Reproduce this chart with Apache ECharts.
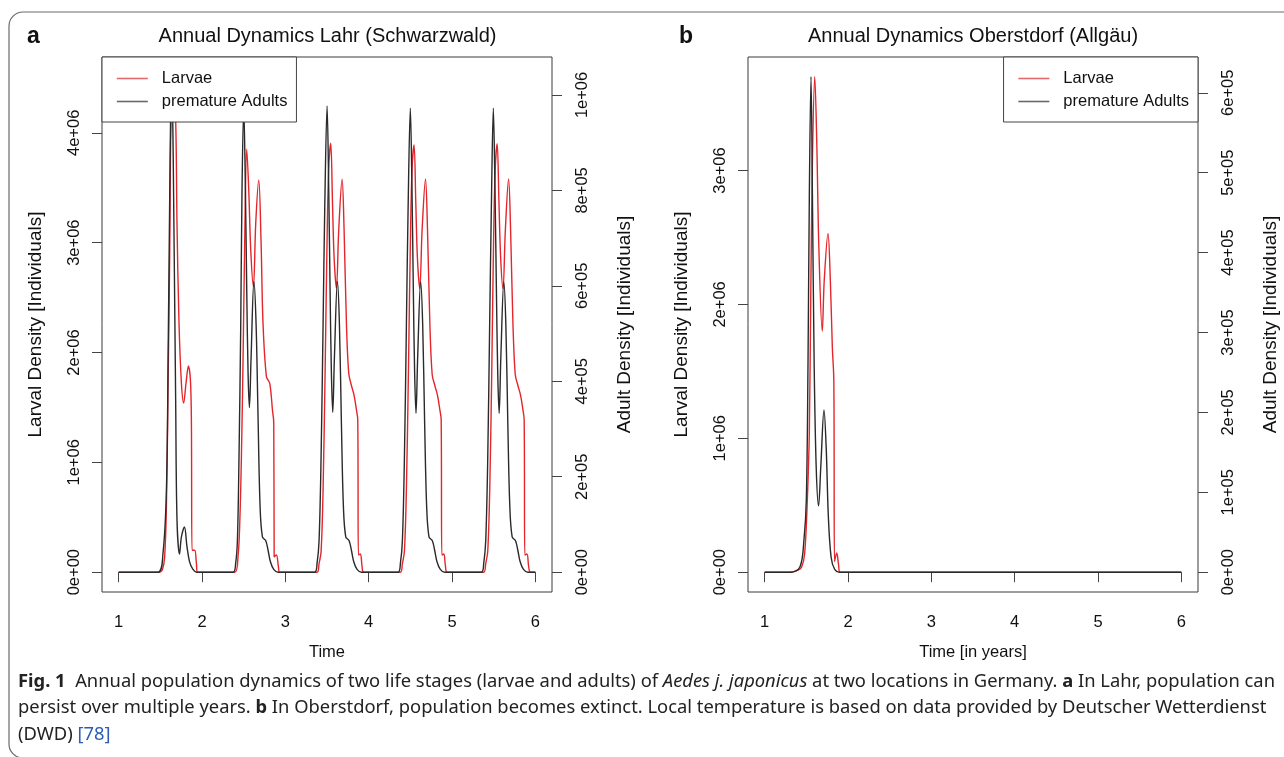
<!DOCTYPE html>
<html>
<head>
<meta charset="utf-8">
<script src="https://cdn.jsdelivr.net/npm/echarts@6/dist/echarts.min.js"></script>
<style>
html,body{margin:0;padding:0;background:#fff;}
#chart{width:1284px;height:757px;}
</style>
</head>
<body>
<div id="chart"></div>
<script>
// ---------- data (time in years, densities in individuals) ----------
const larvaeLahr = [
  [1.000,0],[1.490,0],[1.528,3e4],[1.552,1.4e5],[1.573,6.0e5],[1.592,1.66e6],[1.612,2.87e6],[1.628,4.12e6],
  [1.654,4.51e6],[1.684,4.12e6],[1.700,3.18e6],[1.724,2.27e6],[1.753,1.72e6],[1.780,1.54e6],[1.808,1.72e6],
  [1.837,1.878e6],[1.861,1.75e6],[1.873,1.36e6],[1.880,2.0e5],[1.912,2.0e5],[1.933,8e4],[1.945,0],
  [2.393,0],[2.432,1.4e5],[2.453,4.45e5],[2.473,1.05e6],[2.493,1.96e6],[2.513,3.03e6],[2.537,3.85e6],
  [2.561,3.48e6],[2.585,2.93e6],[2.617,2.60e6],[2.645,3.18e6],[2.681,3.57e6],[2.708,3.03e6],[2.732,2.27e6],
  [2.773,1.78e6],[2.813,1.72e6],[2.845,1.48e6],[2.861,1.36e6],[2.866,1.4e5],[2.893,1.57e5],[2.917,5e4],[2.933,0],
  [3.381,0],[3.405,8e4],[3.429,1.87e5],[3.453,7.5e5],[3.477,1.81e6],[3.501,3.03e6],[3.521,3.69e6],[3.545,3.906e6],
  [3.565,3.39e6],[3.585,2.87e6],[3.613,2.585e6],[3.641,3.12e6],[3.681,3.578e6],[3.705,3.12e6],[3.733,2.27e6],
  [3.761,1.81e6],[3.793,1.70e6],[3.825,1.61e6],[3.853,1.48e6],[3.869,1.39e6],[3.877,1.57e5],[3.901,1.66e5],[3.921,5e4],[3.941,0],
  [4.381,0],[4.405,8e4],[4.429,1.9e5],[4.453,7.6e5],[4.477,1.82e6],[4.501,3.03e6],[4.521,3.68e6],[4.545,3.89e6],
  [4.565,3.38e6],[4.585,2.86e6],[4.613,2.58e6],[4.641,3.11e6],[4.682,3.58e6],[4.706,3.12e6],[4.734,2.27e6],
  [4.762,1.80e6],[4.794,1.70e6],[4.826,1.61e6],[4.854,1.48e6],[4.870,1.39e6],[4.878,1.55e5],[4.902,1.65e5],[4.922,5e4],[4.942,0],
  [5.381,0],[5.405,8e4],[5.429,1.9e5],[5.453,7.6e5],[5.477,1.82e6],[5.499,3.02e6],[5.519,3.68e6],[5.542,3.90e6],
  [5.563,3.38e6],[5.584,2.86e6],[5.612,2.58e6],[5.640,3.11e6],[5.679,3.58e6],[5.703,3.12e6],[5.731,2.27e6],
  [5.759,1.80e6],[5.791,1.70e6],[5.823,1.61e6],[5.851,1.48e6],[5.866,1.39e6],[5.874,1.55e5],[5.900,1.65e5],[5.920,5e4],[5.940,0],
  [6.000,0]
];
const adultsLahr = [
  [1.000,0],[1.468,0],[1.532,4.0e4],[1.573,1.72e5],[1.594,4.64e5],[1.612,7.78e5],[1.624,9.6e5],[1.636,1.038e6],
  [1.648,9.6e5],[1.660,7.78e5],[1.684,3.6e5],[1.700,1.1e5],[1.730,3.8e4],[1.753,7.4e4],[1.789,9.5e4],[1.820,5.3e4],
  [1.852,2.1e4],[1.888,7e3],[1.936,0],
  [2.372,0],[2.404,1.9e4],[2.425,6.7e4],[2.444,2.41e5],[2.465,5.2e5],[2.480,8.0e5],[2.501,9.75e5],[2.521,8.0e5],
  [2.537,5.9e5],[2.553,4.16e5],[2.569,3.45e5],[2.589,4.5e5],[2.623,6.09e5],[2.649,5.2e5],[2.672,3.3e5],[2.697,1.37e5],
  [2.725,7.4e4],[2.765,6.6e4],[2.793,4.6e4],[2.821,2.2e4],[2.861,6e3],[2.914,0],
  [3.353,0],[3.381,1.9e4],[3.405,6.7e4],[3.429,2.41e5],[3.453,5.2e5],[3.473,7.64e5],[3.501,9.77e5],[3.521,8.0e5],
  [3.537,5.9e5],[3.553,4.16e5],[3.569,3.35e5],[3.589,4.5e5],[3.625,6.09e5],[3.649,5.2e5],[3.673,3.11e5],[3.697,1.37e5],
  [3.725,7.4e4],[3.765,6.6e4],[3.793,4.6e4],[3.821,2.2e4],[3.861,6e3],[3.914,0],
  [4.353,0],[4.381,1.9e4],[4.405,6.7e4],[4.429,2.4e5],[4.453,5.2e5],[4.473,7.6e5],[4.500,9.72e5],[4.520,8.0e5],
  [4.536,5.9e5],[4.552,4.15e5],[4.568,3.33e5],[4.588,4.5e5],[4.624,6.08e5],[4.648,5.2e5],[4.672,3.1e5],[4.696,1.37e5],
  [4.724,7.4e4],[4.764,6.6e4],[4.792,4.6e4],[4.820,2.2e4],[4.860,6e3],[4.913,0],
  [5.353,0],[5.381,1.9e4],[5.405,6.7e4],[5.429,2.4e5],[5.452,5.2e5],[5.472,7.6e5],[5.496,9.72e5],[5.516,8.0e5],
  [5.533,5.9e5],[5.549,4.15e5],[5.566,3.33e5],[5.586,4.5e5],[5.622,6.08e5],[5.646,5.2e5],[5.670,3.1e5],[5.694,1.37e5],
  [5.722,7.4e4],[5.762,6.6e4],[5.790,4.6e4],[5.818,2.2e4],[5.858,6e3],[5.911,0],
  [6.000,0]
];
const larvaeOberstdorf = [
  [1.000,0],[1.309,0],[1.400,1.5e4],[1.444,3.9e4],[1.480,1.4e5],[1.512,5.4e5],[1.536,1.05e6],[1.553,2.06e6],
  [1.573,3.07e6],[1.601,3.70e6],[1.626,3.19e6],[1.650,2.43e6],[1.691,1.80e6],[1.715,2.18e6],[1.760,2.53e6],
  [1.788,2.18e6],[1.812,1.68e6],[1.830,1.43e6],[1.838,8e4],[1.865,1.44e5],[1.886,6e4],[1.906,0],[6.000,0]
];
const adultsOberstdorf = [
  [1.000,0],[1.309,0],[1.423,6.5e3],[1.471,4.0e4],[1.500,9.1e4],[1.520,2.6e5],[1.536,4.71e5],[1.556,6.2e5],
  [1.573,4.71e5],[1.594,2.6e5],[1.618,1.33e5],[1.647,8.3e4],[1.674,1.33e5],[1.712,2.03e5],[1.739,1.54e5],
  [1.764,7.0e4],[1.797,1.9e4],[1.838,4e3],[1.898,0],[6.000,0]
];
const timeTicks = [1, 2, 3, 4, 5, 6];
const larvaeTicksLahr = [0, 1e6, 2e6, 3e6, 4e6];
const adultTicksLahr = [0, 2e5, 4e5, 6e5, 8e5, 1e6];
const larvaeTicksOberstdorf = [0, 1e6, 2e6, 3e6];
const adultTicksOberstdorf = [0, 1e5, 2e5, 3e5, 4e5, 5e5, 6e5];
const titles = ['Annual Dynamics Lahr (Schwarzwald)', 'Annual Dynamics Oberstdorf (Allg\u00e4u)'];
const seriesNames = ['Larvae', 'premature Adults'];

// ---------- helpers ----------
const FONT = '"Liberation Sans", Arial, Helvetica, sans-serif';
const CAPFONT = '"Noto Sans", "Open Sans", sans-serif';
const RED = '#e4262c';
const BLACK = '#2a2a2a';
const RED_KEY = '#e36a6a';
const BLACK_KEY = '#6a6a6a';

function sci(v) {
  if (Math.abs(v) < 1e-9) return '0e+00';
  const e = Math.floor(Math.log10(v) + 1e-9);
  const m = Math.round(v / Math.pow(10, e));
  return m + 'e+' + String(e).padStart(2, '0');
}
function maxOf(arr) { return Math.max.apply(null, arr.map(p => p[1])); }
function tRange(arr) { const a = arr[0][0], b = arr[arr.length - 1][0]; const d = (b - a) * 0.04; return [a - d, b + d]; }

function xAx(gridIndex, name, data) {
  const r = tRange(data);
  return {
    type: 'value', gridIndex, min: r[0], max: r[1],
    name, nameLocation: 'middle', nameGap: 52,
    nameTextStyle: { fontSize: 16.5, fontFamily: FONT, color: '#111' },
    axisLine: { show: false }, splitLine: { show: false },
    axisTick: { show: true, length: 10, customValues: timeTicks, lineStyle: { color: '#444', width: 1 } },
    axisLabel: { customValues: timeTicks, margin: 22, fontSize: 16.5, fontFamily: FONT, color: '#111' }
  };
}
function yAx(gridIndex, position, data, ticks, name, nameGap, margin) {
  const m = maxOf(data);
  return {
    type: 'value', gridIndex, position, min: -0.04 * m, max: 1.04 * m,
    name, nameLocation: 'middle', nameGap, nameRotate: 90,
    nameTextStyle: { fontSize: 19, fontFamily: FONT, color: '#111' },
    axisLine: { show: false }, splitLine: { show: false },
    axisTick: { show: true, length: 10, customValues: ticks, lineStyle: { color: '#444', width: 1 } },
    axisLabel: { customValues: ticks, rotate: 90, margin, fontSize: 16.5, fontFamily: FONT, color: '#111', formatter: sci }
  };
}
function lineSeries(name, data, xi, yi, color) {
  return {
    type: 'line', name, data, xAxisIndex: xi, yAxisIndex: yi,
    symbol: 'none', showSymbol: false, smooth: 0.35,
    lineStyle: { color, width: 1.4 }, itemStyle: { color }, emphasis: { disabled: true }
  };
}
function legendAt(pos) {
  return Object.assign({
    top: 57, orient: 'vertical',
    data: [
      { name: seriesNames[0], lineStyle: { color: RED_KEY, width: 1.6 } },
      { name: seriesNames[1], lineStyle: { color: BLACK_KEY, width: 1.6 } }
    ],
    backgroundColor: '#fff', borderColor: '#444', borderWidth: 1, borderRadius: 0,
    padding: [13, 9, 12, 14], itemGap: 6, itemWidth: 31, itemHeight: 15,
    itemStyle: { opacity: 0 },
    textStyle: { fontSize: 16.5, fontFamily: FONT, color: '#111', padding: [0, 0, 0, 9] },
    selectedMode: false
  }, pos);
}

// ---------- caption fitting ----------
const capSize = 18;
const capTarget = 1257;
const ctx = document.createElement('canvas').getContext('2d');
function w(txt, style) { ctx.font = style + ' ' + capSize + 'px ' + CAPFONT; return ctx.measureText(txt).width; }
const cap1 = [
  ['Fig. 1', 'bold'], ['  Annual population dynamics of two life stages (larvae and adults) of ', 'normal'],
  ['Aedes j. japonicus', 'italic'], [' at two locations in Germany. ', 'normal'], ['a', 'bold'], [' In Lahr, population can', 'normal']
];
const cap1W = cap1.reduce((s, p) => s + w(p[0], p[1]), 0);
const capScale = capTarget / cap1W;

const rich = {
  b: { fontWeight: 'bold', fontSize: capSize, fontFamily: CAPFONT, fill: '#222' },
  i: { fontStyle: 'italic', fontSize: capSize, fontFamily: CAPFONT, fill: '#222' },
  n: { fontSize: capSize, fontFamily: CAPFONT, fill: '#222' },
  l: { fontSize: capSize, fontFamily: CAPFONT, fill: '#2d5bb5' }
};
function capText(y, text) {
  return {
    type: 'text', x: 18, y, scaleX: capScale, scaleY: 1, silent: true,
    style: { text, rich, font: capSize + 'px ' + CAPFONT, fill: '#222', verticalAlign: 'middle', align: 'left' }
  };
}

const chart = echarts.init(document.getElementById('chart'), null, { renderer: 'canvas' });
chart.setOption({
  animation: false,
  backgroundColor: '#fff',
  title: [
    { text: titles[0], left: 327.5, textAlign: 'center', top: 26, padding: 0, textStyle: { fontSize: 20, fontWeight: 'normal', fontFamily: FONT, color: '#111' } },
    { text: titles[1], left: 973, textAlign: 'center', top: 26, padding: 0, textStyle: { fontSize: 20, fontWeight: 'normal', fontFamily: FONT, color: '#111' } },
    { text: 'a', left: 27, top: 25, padding: 0, textStyle: { fontSize: 23, fontWeight: 'bold', fontFamily: FONT, color: '#111' } },
    { text: 'b', left: 679, top: 25, padding: 0, textStyle: { fontSize: 23, fontWeight: 'bold', fontFamily: FONT, color: '#111' } }
  ],
  legend: [legendAt({ left: 102 }), legendAt({ right: 86 })],
  grid: [
    { left: 102, top: 57, width: 450, height: 535, show: true, borderColor: '#3a3a3a', borderWidth: 1, backgroundColor: 'transparent', containLabel: false },
    { left: 748, top: 57, width: 450, height: 535, show: true, borderColor: '#3a3a3a', borderWidth: 1, backgroundColor: 'transparent', containLabel: false }
  ],
  xAxis: [xAx(0, 'Time', larvaeLahr), xAx(1, 'Time [in years]', larvaeOberstdorf)],
  yAxis: [
    yAx(0, 'left', larvaeLahr, larvaeTicksLahr, 'Larval Density [Individuals]', 57, 19),
    yAx(0, 'right', adultsLahr, adultTicksLahr, 'Adult Density [Individuals]', 63, 22),
    yAx(1, 'left', larvaeOberstdorf, larvaeTicksOberstdorf, 'Larval Density [Individuals]', 57, 19),
    yAx(1, 'right', adultsOberstdorf, adultTicksOberstdorf, 'Adult Density [Individuals]', 63, 22)
  ],
  series: [
    lineSeries(seriesNames[0], larvaeLahr, 0, 0, RED),
    lineSeries(seriesNames[1], adultsLahr, 0, 1, BLACK),
    lineSeries(seriesNames[0], larvaeOberstdorf, 1, 2, RED),
    lineSeries(seriesNames[1], adultsOberstdorf, 1, 3, BLACK)
  ],
  graphic: [
    { type: 'rect', silent: true, z: -1, shape: { x: 9, y: 12, width: 1320, height: 746, r: 14 }, style: { fill: 'none', stroke: '#6a6a6a', lineWidth: 1.2 } },
    capText(682, '{b|Fig. 1}{n|  Annual population dynamics of two life stages (larvae and adults) of }{i|Aedes j. japonicus}{n| at two locations in Germany. }{b|a}{n| In Lahr, population can}'),
    capText(708, '{n|persist over multiple years. }{b|b}{n| In Oberstdorf, population becomes extinct. Local temperature is based on data provided by Deutscher Wetterdienst}'),
    capText(735, '{n|(DWD) }{l|[78]}')
  ]
});
</script>
</body>
</html>
